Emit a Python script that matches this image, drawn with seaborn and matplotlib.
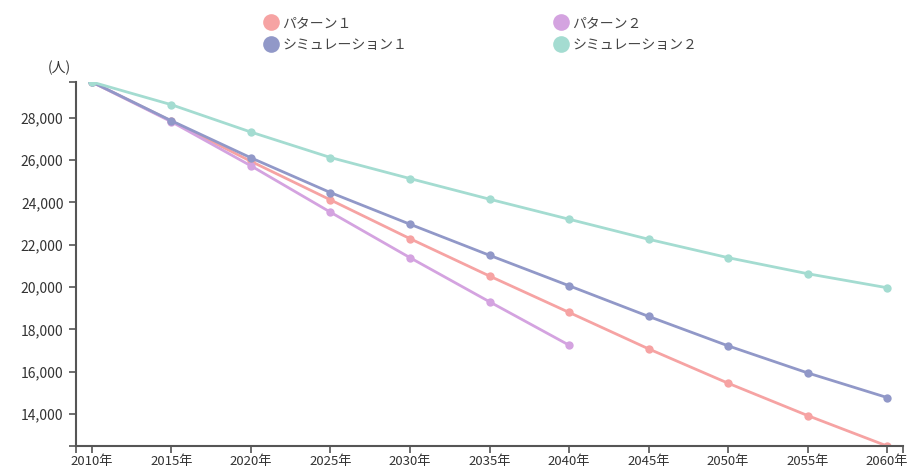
import matplotlib
matplotlib.use("Agg")
import matplotlib.pyplot as plt
from matplotlib.lines import Line2D
import seaborn as sns
import pandas as pd
import numpy as np

years = [2010, 2015, 2020, 2025, 2030, 2035, 2040, 2045, 2050, 2055, 2060]
pattern1 = [29690, 27840, 25940, 24117, 22285, 20519, 18800, 17077, 15453, 13924, 12484]
pattern2 = [29690, 27811, 25727, 23535, 21386, 19302, 17252]
sim1 = [29690, 27858, 26106, 24463, 22967, 21499, 20060, 18611, 17219, 15940, 14775]
sim2 = [29690, 28616, 27323, 26120, 25126, 24151, 23204, 22257, 21386, 20628, 19965]
series_names = ["パターン１", "パターン２", "シミュレーション１", "シミュレーション２"]
yticks = [14000, 16000, 18000, 20000, 22000, 24000, 26000, 28000]
xlabels = [f"{y}年" for y in years]
unit_label = "(人)"

colors = ["#F6A3A3", "#D4A3E0", "#9198C8", "#A4DCD1"]

rows = []
for name, vals in zip(series_names, [pattern1, pattern2, sim1, sim2]):
    for y, v in zip(years, vals):
        rows.append({"year": y, "value": v, "series": name})
df = pd.DataFrame(rows)

sns.set_theme(style="white")
plt.rcParams['font.family'] = ['Noto Sans CJK JP', 'DejaVu Sans']

fig = plt.figure(figsize=(9.13, 4.70), dpi=100)
ax = fig.add_axes([76/913, 1-446/470, (903-76)/913, (446-82)/470])

palette = dict(zip(series_names, colors))
sns.lineplot(data=df, x="year", y="value", hue="series", hue_order=series_names,
             palette=palette, marker="o", markersize=6, markeredgewidth=0,
             linewidth=2, ax=ax, legend=False, sort=False)

all_vals = pattern1 + pattern2 + sim1 + sim2
ymin, ymax = min(all_vals), max(all_vals)
ax.set_ylim(ymin, ymax)
ax.set_xlim(2009, 2061)

ax.set_yticks(yticks)
ax.set_yticklabels([f"{t:,}" for t in yticks])
ax.set_yticks([ymin, ymax], minor=True)
ax.set_xticks(years)
ax.set_xticklabels(xlabels)
ax.set_xticks([2009, 2061], minor=True)

for side in ["top", "right"]:
    ax.spines[side].set_visible(False)
for side in ["left", "bottom"]:
    ax.spines[side].set_color("#555555")
    ax.spines[side].set_linewidth(1.5)
ax.tick_params(axis="both", which="both", direction="out", length=5, width=1.2,
               color="#555555", labelcolor="#333333", labelsize=10, pad=4,
               left=True, bottom=True)
ax.tick_params(axis="x", which="both", labelsize=9.5, pad=1.5)
ax.tick_params(axis="both", which="minor", labelleft=False, labelbottom=False)
ax.set_xlabel("")
ax.set_ylabel("")
ax.grid(False)

fig.text(71/913, 1-68/470, unit_label, ha="right", va="center", fontsize=10, color="#333333")

handles = [Line2D([0], [0], marker="o", linestyle="none", markersize=12,
                  markerfacecolor=c, markeredgewidth=0) for c in colors]
order = [0, 2, 1, 3]
fig.legend([handles[i] for i in order], [series_names[i] for i in order],
           ncol=2, loc="upper left", bbox_to_anchor=(256/913, 1-9/470),
           frameon=False, fontsize=10, labelcolor="#444444",
           handletextpad=0.2, columnspacing=10.5, labelspacing=0.55, borderpad=0,
           handlelength=1.2)

fig.savefig("out.png", dpi=100, facecolor="white")
